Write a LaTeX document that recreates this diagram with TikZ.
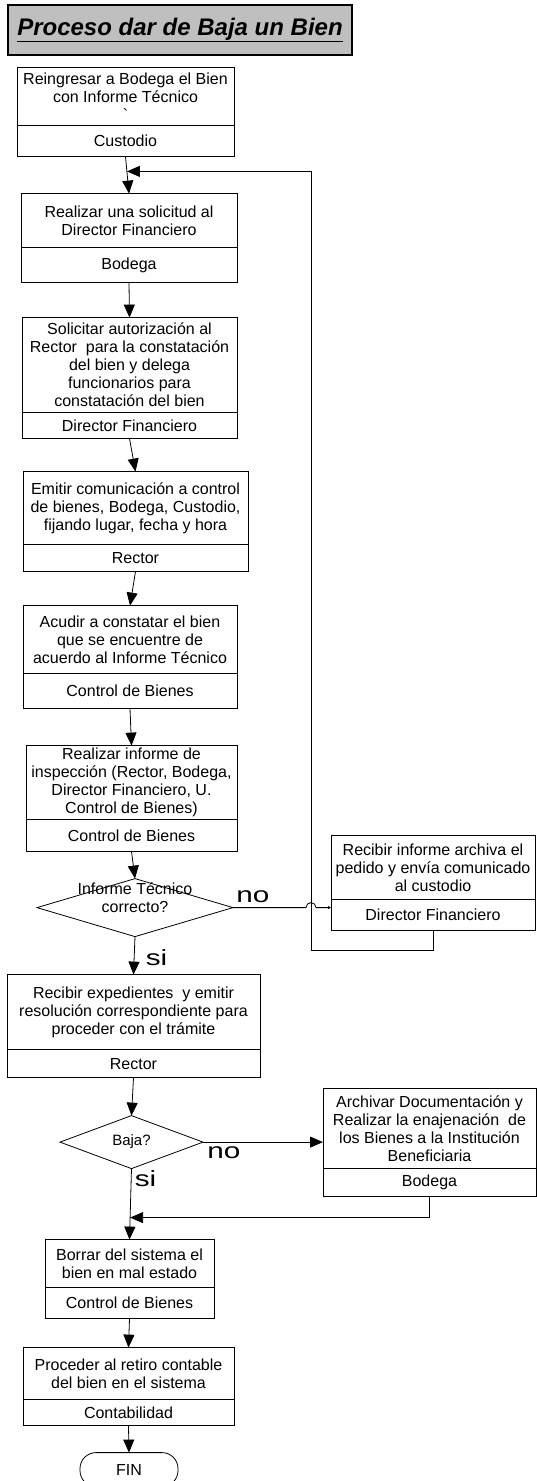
\documentclass[tikz,border=0pt]{standalone}
\usepackage{fontspec}
\setmainfont{Liberation Sans}
\usetikzlibrary{
	shapes.geometric,
	arrows.meta,
	positioning,
	calc
}

\begin{document}
\begin{tikzpicture}[
				line width=0.8pt,
				task/.style={
					rectangle, draw, outer sep=0pt, inner sep=1pt,
					align=center, font=\fontsize{16}{18}\selectfont
				},
				role/.style={
					task
				},
				titlebox/.style={
					rectangle, draw, line width=1.2pt, fill=black!25,
					minimum width=344pt, minimum height=50pt,
					font=\fontsize{24}{28}\selectfont\bfseries\itshape
				},
				decision/.style={
					diamond, draw, aspect=2.7, outer sep=0pt, inner sep=0pt,
					align=center, font=\fontsize{15}{18}\selectfont
				},
				endbox/.style={
					rectangle, draw, rounded corners=16pt, outer sep=0pt,
					minimum width=98pt, minimum height=34pt,
					font=\fontsize{16}{18}\selectfont
				},
				answer/.style={
					inner sep=0pt, font=\fontsize{22}{24}\selectfont
				},
				arrow/.style={-{Triangle[length=13pt,width=11pt]}, black}
				]
				
				\useasboundingbox (0,0) rectangle (537pt,-1481pt);
				
				% title
				\node[titlebox] (title) at (180pt,-30pt) {\underline{Proceso dar de Baja un Bien}};
				
				% reingreso
				\node[task, below=12pt of title, xshift=-54.5pt, minimum width=217pt, minimum height=58pt] (reingreso) {Reingresar a Bodega el Bien\\con Informe Técnico\\\textasciigrave};
				\node[role, below=0pt of reingreso, minimum width=217pt, minimum height=31pt] (reingresoR) {Custodio};
				
				% solicitud
				\node[task, below=37pt of reingresoR, xshift=3.5pt, minimum width=216pt, minimum height=54pt] (solicitud) {Realizar una solicitud al\\Director Financiero};
				\node[role, below=0pt of solicitud, minimum width=216pt, minimum height=35pt] (solicitudR) {Bodega};
				
				% autorizacion
				\node[task, below=35pt of solicitudR, xshift=0.5pt, minimum width=215pt, minimum height=95pt] (autorizacion) {Solicitar autorización al\\Rector~ para la constatación\\del bien y delega\\funcionarios para\\constatación del bien};
				\node[role, below=0pt of autorizacion, minimum width=215pt, minimum height=26pt] (autorizacionR) {Director Financiero};
				
				% comunicacion
				\node[task, below=33pt of autorizacionR, xshift=6pt, minimum width=225pt, minimum height=73pt] (comunicacion) {Emitir comunicación a control\\de bienes, Bodega, Custodio,\\fijando lugar, fecha y hora};
				\node[role, below=0pt of comunicacion, minimum width=225pt, minimum height=27pt] (comunicacionR) {Rector};
				
				% constatar
				\node[task, below=34pt of comunicacionR, xshift=-5.5pt, minimum width=214pt, minimum height=68pt] (constatar) {Acudir a constatar el bien\\que se encuentre de\\acuerdo al Informe Técnico};
				\node[role, below=0pt of constatar, minimum width=214pt, minimum height=35pt] (constatarR) {Control de Bienes};
				
				% inspeccion
				\node[task, below=37pt of constatarR, xshift=1.5pt, minimum width=211pt, minimum height=74pt] (inspeccion) {Realizar informe de\\inspección (Rector, Bodega,\\Director Financiero, U.\\Control de Bienes)};
				\node[role, below=0pt of inspeccion, minimum width=211pt, minimum height=32pt] (inspeccionR) {Control de Bienes};
				
				% informe correcto?
				\node[decision, below=27pt of inspeccionR, xshift=3.5pt, minimum width=196pt, minimum height=58pt] (correcto) {};
				\node[align=center, inner sep=0pt, font=\fontsize{16}{18}\selectfont] (correctoT) at ([yshift=10pt]correcto.center) {Informe Técnico\\correcto?};
				
				% archiva (no)
				\node[task, right=98pt of correcto, yshift=40pt, minimum width=204pt, minimum height=64pt] (archiva) {Recibir informe archiva el\\pedido y envía comunicado\\al custodio};
				\node[role, below=0pt of archiva, minimum width=204pt, minimum height=31pt] (archivaR) {Director Financiero};
				
				% resolucion (si)
				\node[task, below=38pt of correcto, xshift=-1.5pt, minimum width=253pt, minimum height=75pt] (resolucion) {Recibir expedientes~ y emitir\\resolución correspondiente para\\proceder con el trámite};
				\node[role, below=0pt of resolucion, minimum width=253pt, minimum height=28pt] (resolucionR) {Rector};
				
				% baja?
				\node[decision, below=38pt of resolucionR, xshift=-2pt, minimum width=143pt, minimum height=53pt] (baja) {Baja?};
				
				% enajenacion (no)
				\node[task, right=120pt of baja, yshift=13.5pt, minimum width=213pt, minimum height=80pt] (enajenacion) {Archivar Documentación y\\Realizar la enajenación~ de\\los Bienes a la Institución\\Beneficiaria};
				\node[role, below=0pt of enajenacion, minimum width=213pt, minimum height=28pt] (enajenacionR) {Bodega};
				
				% borrar (si)
				\node[task, below=71pt of baja, xshift=-2pt, minimum width=169pt, minimum height=48pt] (borrar) {Borrar del sistema el\\bien en mal estado};
				\node[role, below=0pt of borrar, minimum width=169pt, minimum height=31pt] (borrarR) {Control de Bienes};
				
				% retiro
				\node[task, below=29pt of borrarR, xshift=-1pt, minimum width=211pt, minimum height=52pt] (retiro) {Proceder al retiro contable\\del bien en el sistema};
				\node[role, below=0pt of retiro, minimum width=211pt, minimum height=26pt] (retiroR) {Contabilidad};
				
				% fin
				\node[endbox, below=27pt of retiroR, xshift=0.5pt] (fin) {FIN};
				
				% answers
				\node[answer] (noA) at ([xshift=20pt, yshift=11pt]correcto.east) {\scalebox{1.35}[1]{no}};
				\node[answer] (siA) at ([xshift=21.5pt, yshift=-21pt]correcto.south) {\scalebox{1.35}[1]{si}};
				\node[answer] (noB) at ([xshift=21pt, yshift=-10.5pt]baja.east) {\scalebox{1.35}[1]{no}};
				\node[answer] (siB) at ([xshift=14pt, yshift=-10pt]baja.south) {\scalebox{1.35}[1]{si}};
				
				% merge points
				\coordinate (merge1) at ($(reingresoR.south)!0.4!(solicitud.north)$);
				\coordinate (merge2) at ($(baja.south)!0.69!(borrar.north)$);
				
				% main flow
				\draw[arrow] (reingresoR.south)    -- (solicitud.north);
				\draw[arrow] (solicitudR.south)    -- (autorizacion.north);
				\draw[arrow] (autorizacionR.south) -- (comunicacion.north);
				\draw[arrow] (comunicacionR.south) -- (constatar.north);
				\draw[arrow] (constatarR.south)    -- (inspeccion.north);
				\draw[arrow] (inspeccionR.south)   -- (correcto.north);
				\draw[arrow] (correcto.south)      -- (resolucion.north);
				\draw[arrow] (resolucionR.south)   -- (baja.north);
				\draw[arrow] (baja.south)          -- (borrar.north);
				\draw[arrow] (borrarR.south)       -- (retiro.north);
				\draw[arrow] (retiroR.south)       -- (fin.north);
				
				% no branches and returns
				\draw[-{Triangle[length=3pt,width=3pt]}] (correcto.east) -- ++(73pt,0) arc[start angle=180, end angle=0, radius=5pt] -- (correcto.east -| archivaR.west);
				\draw[arrow] (archivaR.south) -- ++(0,-20pt) -- ++(-122pt,0) |- (merge1);
				\draw[arrow] (baja.east) -- (baja.east -| enajenacion.west);
				\draw[arrow] (enajenacionR.south) |- (merge2);
			\end{tikzpicture}
\end{document}
